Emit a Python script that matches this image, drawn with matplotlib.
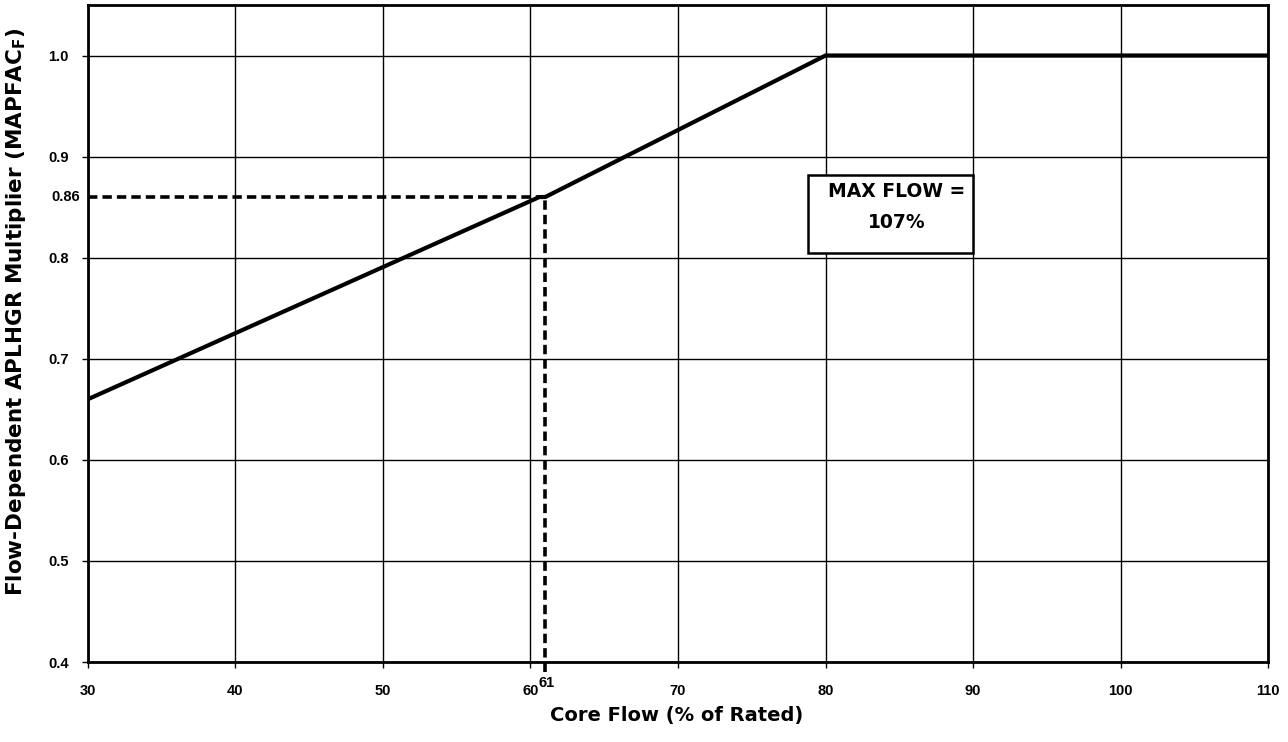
import matplotlib
matplotlib.use('Agg')
import matplotlib.pyplot as plt
from matplotlib.patches import Rectangle

# MAPFAC_F curve (core flow %, multiplier)
flow = [30, 60.6, 61, 80, 110]
mapfac = [0.66, 0.86, 0.86, 1.0, 1.0]

# Marked operating point
mark_flow = 61
mark_mult = 0.86

x_ticks = [30, 40, 50, 60, 70, 80, 90, 100, 110]
y_ticks = [0.4, 0.5, 0.6, 0.7, 0.8, 0.9, 1.0]
y_labels = ['0.4', '0.5', '0.6', '0.7', '0.8', '0.9', '1.0']

plt.rcParams['font.family'] = ['Liberation Sans', 'DejaVu Sans']
wide = ['DejaVu Sans']

fig = plt.figure(figsize=(12.88, 7.42), dpi=100)
ax = fig.add_axes([0.0683, 0.1078, 0.9162, 0.8855])

ax.set_xlim(30, 110)
ax.set_ylim(0.4, 1.05)

ax.set_xticks(x_ticks)
ax.set_xticklabels([str(t) for t in x_ticks], fontsize=10.5, fontweight='bold')
ax.set_yticks(y_ticks)
ax.set_yticklabels(y_labels, fontsize=10.5, fontweight='bold')
ax.tick_params(axis='y', direction='out', length=4, width=1, color='black', pad=10)
ax.tick_params(axis='x', direction='out', length=4, width=1, color='black', pad=12)

ax.grid(True, color='black', linewidth=1.0)
ax.set_axisbelow(True)
for sp in ax.spines.values():
    sp.set_linewidth(2)
    sp.set_color('black')

# main curve
ax.plot(flow, mapfac, color='black', linewidth=3.0, solid_capstyle='butt', zorder=3)

# dashed guide lines to the 61% point
ax.plot([30, mark_flow], [mark_mult, mark_mult], color='black', linewidth=2.6,
        linestyle=(0, (2.6, 1.4)), zorder=4, clip_on=False)
ax.plot([mark_flow, mark_flow], [0.39, mark_mult], color='black', linewidth=2.6,
        linestyle=(0, (2.6, 1.4)), zorder=4, clip_on=False)

# extra labels for the marked point
ax.text(29.45, mark_mult, '0.86', ha='right', va='center', fontsize=10.5, fontweight='bold')
ax.text(mark_flow + 0.1, 0.386, '61', ha='center', va='top', fontsize=10.5, fontweight='bold')

# MAX FLOW box
ax.add_patch(Rectangle((78.8, 0.805), 11.2, 0.077, facecolor='white', edgecolor='black',
                       linewidth=1.8, zorder=5))
ax.text(84.8, 0.8653, 'MAX FLOW =', ha='center', va='center', fontsize=13.5,
        fontweight='bold', family=wide, zorder=6)
ax.text(84.8, 0.8347, '107%', ha='center', va='center', fontsize=13.5,
        fontweight='bold', family=wide, zorder=6)

# axis titles
fig.text(677 / 1288, 1 - 716 / 742, 'Core Flow (% of Rated)', ha='center', va='center',
         fontsize=14, fontweight='bold', family=wide)
fig.text(16 / 1288, 1 - 312 / 742, 'Flow-Dependent APLHGR Multiplier (MAPFAC$_{\\mathbf{F}}$)',
         ha='center', va='center', rotation=90, fontsize=15.5, fontweight='bold', family=wide)

fig.savefig('out.png', dpi=100)
